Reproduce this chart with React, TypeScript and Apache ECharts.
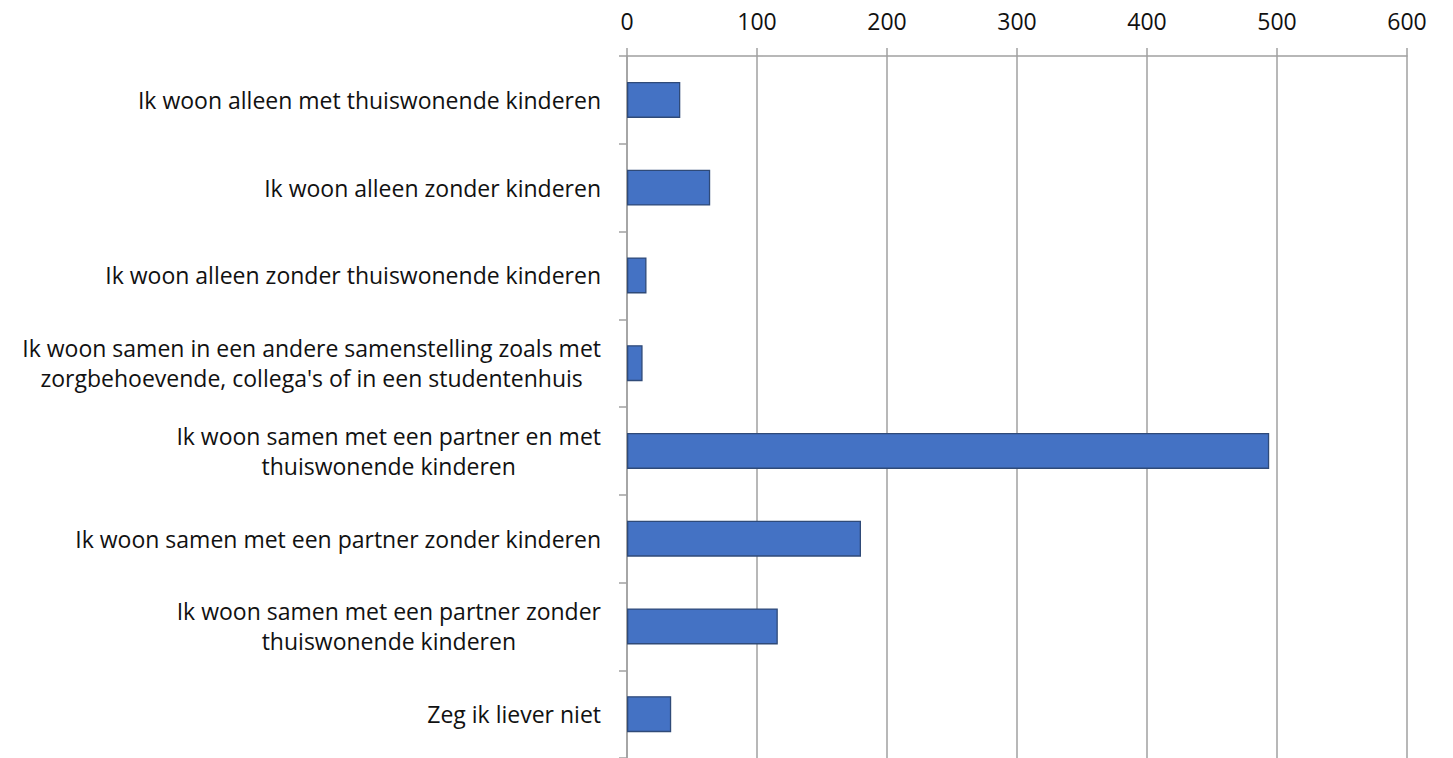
import React, { useEffect, useRef } from "react";
import * as echarts from "echarts";

const categories: string[] = [
  "Ik woon alleen met thuiswonende kinderen",
  "Ik woon alleen zonder kinderen",
  "Ik woon alleen zonder thuiswonende kinderen",
  "Ik woon samen in een andere samenstelling zoals met\nzorgbehoevende, collega's of in een studentenhuis",
  "Ik woon samen met een partner en met\nthuiswonende kinderen",
  "Ik woon samen met een partner zonder kinderen",
  "Ik woon samen met een partner zonder\nthuiswonende kinderen",
  "Zeg ik liever niet",
];

const values: number[] = [41, 64, 15, 12, 494, 180, 116, 34];

const axisMin = 0;
const axisMax = 600;
const axisInterval = 100;

const FONT = "'Open Sans', sans-serif";
const FONT_SIZE = 23;
const LINE_H = 30;

export default function App() {
  const ref = useRef<HTMLDivElement>(null);

  useEffect(() => {
    if (!ref.current) return;
    const chart = echarts.init(ref.current, undefined, { renderer: "svg" });
    chart.setOption({
      animation: false,
      backgroundColor: "#ffffff",
      grid: { left: 627, top: 56, width: 780, height: 704, containLabel: false },
      xAxis: {
        type: "value",
        position: "top",
        min: axisMin,
        max: axisMax,
        interval: axisInterval,
        axisLine: { show: true, lineStyle: { color: "#A0A0A0", width: 1.5 } },
        axisTick: { show: true, length: 8, lineStyle: { color: "#A0A0A0", width: 1.5 } },
        splitLine: { show: true, lineStyle: { color: "#A0A0A0", width: 1.5 } },
        axisLabel: {
          color: "#111111",
          fontFamily: FONT,
          fontSize: FONT_SIZE,
          margin: 24,
        },
      },
      yAxis: {
        type: "category",
        inverse: true,
        data: categories,
        axisLine: { show: true, lineStyle: { color: "#A0A0A0", width: 1.5 } },
        axisTick: { show: true, length: 8, lineStyle: { color: "#A0A0A0", width: 1.5 } },
        axisLabel: {
          margin: 26,
          align: "right",
          color: "#111111",
          fontFamily: FONT,
          fontSize: FONT_SIZE,
          lineHeight: LINE_H,
          formatter: (v: string) =>
            v
              .split("\n")
              .map((l) => `{c|${l}}`)
              .join("\n"),
          rich: {
            c: {
              align: "center",
              color: "#111111",
              fontFamily: FONT,
              fontSize: FONT_SIZE,
              lineHeight: LINE_H,
            },
          },
        },
      },
      series: [
        {
          type: "bar",
          data: values,
          barWidth: 36,
          itemStyle: {
            color: "#4472C4",
            borderColor: "#2F4A78",
            borderWidth: 1.3,
          },
        },
      ],
    });
    return () => chart.dispose();
  }, []);

  return (
    <div
      ref={ref}
      style={{ position: "fixed", left: 0, top: 0, width: 1453, height: 758, background: "#fff" }}
    />
  );
}
